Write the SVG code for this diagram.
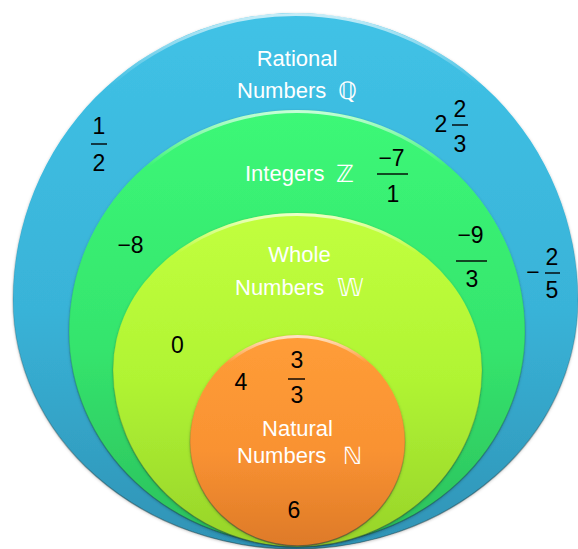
<svg xmlns="http://www.w3.org/2000/svg" width="578" height="549" viewBox="0 0 578 549">
  <defs>
    <linearGradient id="gBlue" x1="0" y1="0" x2="0" y2="1">
      <stop offset="0" stop-color="#40c2e6"/>
      <stop offset="0.55" stop-color="#39b3d8"/>
      <stop offset="1" stop-color="#2f93b5"/>
    </linearGradient>
    <linearGradient id="gGreen" x1="0" y1="0" x2="0" y2="1">
      <stop offset="0" stop-color="#3cf877"/>
      <stop offset="0.55" stop-color="#35e46d"/>
      <stop offset="1" stop-color="#2bbf5c"/>
    </linearGradient>
    <linearGradient id="gYellow" x1="0" y1="0" x2="0" y2="1">
      <stop offset="0" stop-color="#c2ff3e"/>
      <stop offset="0.5" stop-color="#b0f433"/>
      <stop offset="1" stop-color="#97d32a"/>
    </linearGradient>
    <linearGradient id="gOrange" x1="0" y1="0" x2="0" y2="1">
      <stop offset="0" stop-color="#ff9d38"/>
      <stop offset="0.55" stop-color="#f99232"/>
      <stop offset="1" stop-color="#de7a28"/>
    </linearGradient>
    <!-- light rim along the upper edge of each disc -->
    <linearGradient id="rim" x1="0" y1="0" x2="0" y2="1">
      <stop offset="0" stop-color="#ffffff" stop-opacity="0.7"/>
      <stop offset="0.25" stop-color="#ffffff" stop-opacity="0"/>
    </linearGradient>
    <!-- darker outline toward the lower edge -->
    <linearGradient id="edge" x1="0" y1="0" x2="0" y2="1">
      <stop offset="0.3" stop-color="#1a3a40" stop-opacity="0"/>
      <stop offset="1" stop-color="#1a3a40" stop-opacity="0.55"/>
    </linearGradient>
    <filter id="soft" x="-10%" y="-10%" width="120%" height="120%">
      <feDropShadow dx="0" dy="1" stdDeviation="1.5" flood-color="#000" flood-opacity="0.25"/>
    </filter>
  </defs>
  <style>
    .lbl { font-family: "Liberation Sans", Arial, sans-serif; font-size: 22px; fill: #ffffff; }
    .ds { font-family: "DejaVu Sans", "DejaVu Serif", sans-serif; font-size: 24px; fill: #ffffff; }
    .num { font-family: "Liberation Sans", Arial, sans-serif; font-size: 23px; fill: #000000; text-anchor: middle; }
    .bar { stroke: #000000; stroke-width: 1.4; }
    .rim { fill: none; stroke: url(#rim); stroke-width: 3; }
    .edge { fill: none; stroke: url(#edge); stroke-width: 1.2; }
  </style>

  <!-- Rational numbers -->
  <g id="rational">
    <path filter="url(#soft)" fill="url(#gBlue)" d="M13,300 A282.5,287 0 0 1 578,300 A282.5,249 0 0 1 13,300 Z"/>
    <path class="rim" d="M14.5,300 A281,285.5 0 0 1 576.5,300"/>
    <path class="edge" d="M13,300 A282.5,287 0 0 1 578,300 A282.5,249 0 0 1 13,300 Z"/>
    <text class="lbl" x="297" y="66" text-anchor="middle">Rational</text>
    <text class="lbl" x="237" y="98">Numbers</text>
    <text class="ds" x="338" y="99">ℚ</text>
    <text class="num" x="99" y="134">1</text>
    <line class="bar" x1="91" y1="144" x2="107" y2="144"/>
    <text class="num" x="99" y="171">2</text>
    <text class="num" x="441" y="132">2</text>
    <text class="num" x="460" y="117">2</text>
    <line class="bar" x1="452" y1="125" x2="468" y2="125"/>
    <text class="num" x="460" y="152">3</text>
    <text class="num" x="533" y="280">−</text>
    <text class="num" x="552" y="265">2</text>
    <line class="bar" x1="545" y1="273" x2="560" y2="273"/>
    <text class="num" x="552" y="298">5</text>
  </g>

  <!-- Integers -->
  <g id="integers">
    <path filter="url(#soft)" fill="url(#gGreen)" d="M69,332 A228,222 0 0 1 525,332 A228,213 0 0 1 69,332 Z"/>
    <path class="rim" d="M70.5,332 A226.5,220.5 0 0 1 523.5,332"/>
    <path class="edge" d="M69,332 A228,222 0 0 1 525,332 A228,213 0 0 1 69,332 Z"/>
    <text class="lbl" x="245" y="181">Integers</text>
    <text class="ds" x="336" y="182">ℤ</text>
    <text class="num" x="391.5" y="166">−7</text>
    <line class="bar" x1="377" y1="174" x2="408" y2="174"/>
    <text class="num" x="393" y="202">1</text>
    <text class="num" x="130.5" y="253">−8</text>
    <text class="num" x="470.5" y="243">−9</text>
    <line class="bar" x1="456" y1="261" x2="487" y2="261"/>
    <text class="num" x="472" y="287">3</text>
  </g>

  <!-- Whole numbers -->
  <g id="whole">
    <path filter="url(#soft)" fill="url(#gYellow)" d="M113,370 A184.5,157 0 0 1 482,370 A184.5,177 0 0 1 113,370 Z"/>
    <path class="rim" d="M114.5,370 A183,155.5 0 0 1 480.5,370"/>
    <path class="edge" d="M113,370 A184.5,157 0 0 1 482,370 A184.5,177 0 0 1 113,370 Z"/>
    <text class="lbl" x="299.5" y="262" text-anchor="middle">Whole</text>
    <text class="lbl" x="235" y="295">Numbers</text>
    <text class="ds" x="337" y="296">𝕎</text>
    <text class="num" x="177.5" y="353">0</text>
  </g>

  <!-- Natural numbers -->
  <g id="natural">
    <path filter="url(#soft)" fill="url(#gOrange)" d="M190,442 A107.5,107 0 0 1 405,442 A107.5,104 0 0 1 190,442 Z"/>
    <path class="rim" d="M191.5,442 A106,105.5 0 0 1 403.5,442"/>
    <path class="edge" d="M190,442 A107.5,107 0 0 1 405,442 A107.5,104 0 0 1 190,442 Z"/>
    <text class="lbl" x="297.5" y="436" text-anchor="middle">Natural</text>
    <text class="lbl" x="237" y="463">Numbers</text>
    <text class="ds" x="343" y="464">ℕ</text>
    <text class="num" x="241" y="390">4</text>
    <text class="num" x="297" y="368">3</text>
    <line class="bar" x1="288" y1="379" x2="305" y2="379"/>
    <text class="num" x="297" y="403">3</text>
    <text class="num" x="294" y="518">6</text>
  </g>
</svg>
